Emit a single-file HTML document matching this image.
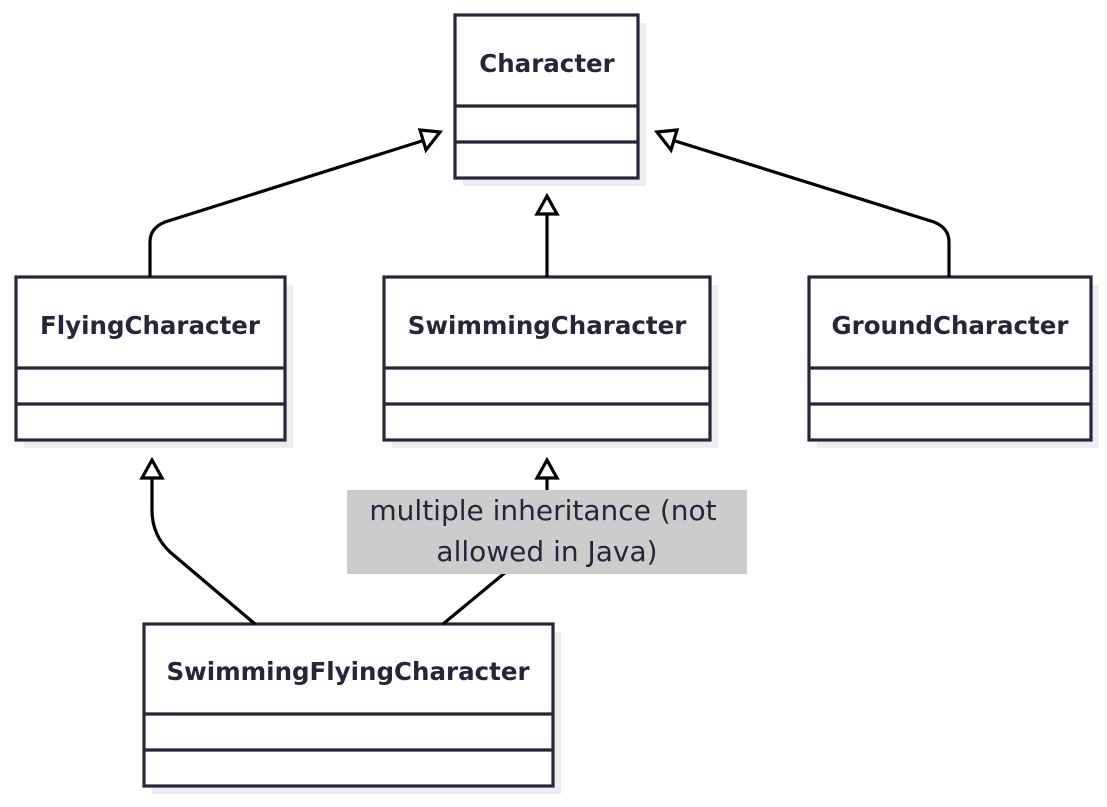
<!DOCTYPE html>
<html><head><meta charset="utf-8"><style>
body{margin:0;background:#fff;width:1107px;height:802px;overflow:hidden}
text{font-family:"DejaVu Sans","Liberation Sans",sans-serif;fill:#28253a}
</style></head><body>
<svg width="1107" height="802" viewBox="0 0 1107 802" xmlns="http://www.w3.org/2000/svg">
<g fill="#eeeeee">
<rect x="463" y="23" width="183" height="163"/>
<rect x="24" y="285" width="269" height="163"/>
<rect x="392" y="285" width="326" height="163"/>
<rect x="817" y="285" width="282" height="163"/>
<rect x="152" y="632" width="409" height="162"/>
</g>
<g fill="#fff" stroke="#28253a" stroke-width="3.2">
<rect x="455" y="15" width="183" height="163"/>
<line x1="455" y1="106" x2="638" y2="106"/><line x1="455" y1="142" x2="638" y2="142"/>
<rect x="16" y="277" width="269" height="163"/>
<line x1="16" y1="368" x2="285" y2="368"/><line x1="16" y1="404" x2="285" y2="404"/>
<rect x="384" y="277" width="326" height="163"/>
<line x1="384" y1="368" x2="710" y2="368"/><line x1="384" y1="404" x2="710" y2="404"/>
<rect x="809" y="277" width="282" height="163"/>
<line x1="809" y1="368" x2="1091" y2="368"/><line x1="809" y1="404" x2="1091" y2="404"/>
<rect x="144" y="624" width="409" height="162"/>
<line x1="144" y1="714" x2="553" y2="714"/><line x1="144" y1="750" x2="553" y2="750"/>
</g>
<g font-weight="bold" font-size="24.5" text-anchor="middle">
<text x="547" y="72">Character</text>
<text x="150" y="334">FlyingCharacter</text>
<text x="547" y="334">SwimmingCharacter</text>
<text x="950" y="334">GroundCharacter</text>
<text x="348" y="680">SwimmingFlyingCharacter</text>
</g>
<g fill="none" stroke="#000" stroke-width="3.2">
<path d="M150 277 V242 Q150 228 165 222 L425 140"/>
<path d="M547 277 V214"/>
<path d="M949 277 V242 Q949 228 934 222 L672 140"/>
<path d="M255 624 L170 552 Q152 535 152 510 V478"/>
<path d="M443 624 L547 538 V478"/>
</g>
<g fill="#fff" stroke="#000" stroke-width="3.2" stroke-linejoin="miter">
<polygon points="440,132 420,130 426,150"/>
<polygon points="547,196 537,214 557,214"/>
<polygon points="657,132 677,130 671,150"/>
<polygon points="152,460 142,478 162,478"/>
<polygon points="547,460 537,478 557,478"/>
</g>
<rect x="347" y="490" width="400" height="84" fill="#cccccc"/>
<g font-size="28" text-anchor="middle">
<text x="543" y="520">multiple inheritance (not</text>
<text x="547" y="561">allowed in Java)</text>
</g>
</svg>
</body></html>
